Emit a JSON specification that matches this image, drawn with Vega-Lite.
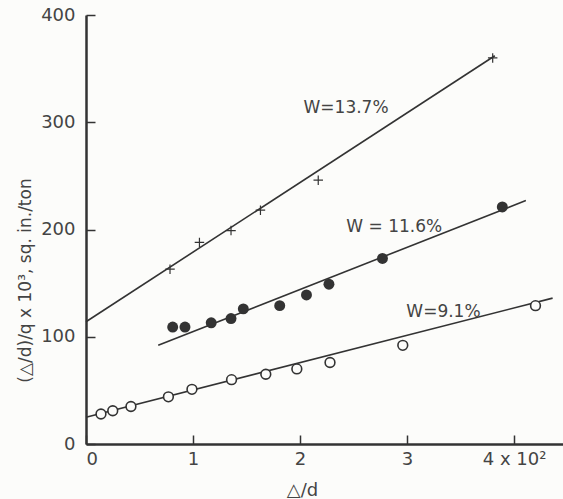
{
  "$schema": "https://vega.github.io/schema/vega-lite/v6.json",
  "width": 477,
  "height": 429,
  "autosize": "none",
  "padding": {"left": 86, "top": 15, "right": 0, "bottom": 55},
  "background": "#fcfcfa",
  "config": {
    "view": {"stroke": null},
    "font": "DejaVu Sans",
    "axis": {
      "domainColor": "#333333",
      "domainWidth": 2.5,
      "tickColor": "#333333",
      "tickWidth": 1.5,
      "tickSize": -9,
      "grid": false,
      "labelFont": "DejaVu Sans",
      "labelFontSize": 18,
      "labelColor": "#444444",
      "titleFont": "DejaVu Sans",
      "titleFontSize": 17,
      "titleFontWeight": "normal",
      "titleColor": "#444444"
    }
  },
  "datasets": {
    "pts": [
      {"series": "W=13.7%", "x": 0.785, "y": 163},
      {"series": "W=13.7%", "x": 1.06, "y": 188},
      {"series": "W=13.7%", "x": 1.355, "y": 199},
      {"series": "W=13.7%", "x": 1.63, "y": 218},
      {"series": "W=13.7%", "x": 2.17, "y": 246},
      {"series": "W=13.7%", "x": 3.8, "y": 360},
      {"series": "W=11.6%", "x": 0.81, "y": 109},
      {"series": "W=11.6%", "x": 0.925, "y": 109},
      {"series": "W=11.6%", "x": 1.17, "y": 113},
      {"series": "W=11.6%", "x": 1.355, "y": 117},
      {"series": "W=11.6%", "x": 1.47, "y": 126},
      {"series": "W=11.6%", "x": 1.81, "y": 129},
      {"series": "W=11.6%", "x": 2.06, "y": 139},
      {"series": "W=11.6%", "x": 2.27, "y": 149},
      {"series": "W=11.6%", "x": 2.77, "y": 173},
      {"series": "W=11.6%", "x": 3.89, "y": 221},
      {"series": "W=9.1%", "x": 0.14, "y": 28},
      {"series": "W=9.1%", "x": 0.25, "y": 31},
      {"series": "W=9.1%", "x": 0.42, "y": 35},
      {"series": "W=9.1%", "x": 0.77, "y": 44},
      {"series": "W=9.1%", "x": 0.99, "y": 51},
      {"series": "W=9.1%", "x": 1.36, "y": 60},
      {"series": "W=9.1%", "x": 1.68, "y": 65},
      {"series": "W=9.1%", "x": 1.97, "y": 70},
      {"series": "W=9.1%", "x": 2.28, "y": 76},
      {"series": "W=9.1%", "x": 2.96, "y": 92},
      {"series": "W=9.1%", "x": 4.2, "y": 129}
    ],
    "fits": [
      {"series": "W=13.7%", "x": 0, "y": 114},
      {"series": "W=13.7%", "x": 3.82, "y": 362},
      {"series": "W=11.6%", "x": 0.675, "y": 92},
      {"series": "W=11.6%", "x": 4.11, "y": 227},
      {"series": "W=9.1%", "x": 0, "y": 25},
      {"series": "W=9.1%", "x": 4.36, "y": 136}
    ],
    "labels": [
      {"text": "W=13.7%", "x": 2.43, "y": 313},
      {"text": "W = 11.6%", "x": 2.88, "y": 202},
      {"text": "W=9.1%", "x": 3.34, "y": 123}
    ]
  },
  "encoding": {
    "x": {
      "field": "x",
      "type": "quantitative",
      "scale": {"domain": [0, 4.457], "nice": false, "zero": false},
      "axis": {
        "values": [0, 1, 2, 3, 4],
        "labelExpr": "datum.value == 4 ? '4 x 10²' : datum.label",
        "labelPadding": 15,
        "title": "△/d",
        "titleX": 216,
        "titleY": 46,
        "titleBaseline": "middle",
        "titleFontSize": 18
      }
    },
    "y": {
      "field": "y",
      "type": "quantitative",
      "scale": {"domain": [0, 400], "nice": false},
      "axis": {
        "values": [0, 100, 200, 300, 400],
        "labelPadding": 20,
        "title": "(△/d)/q x 10³, sq. in./ton",
        "titleX": -61,
        "titleY": 265,
        "titleAngle": 270,
        "titleAlign": "center",
        "titleBaseline": "middle"
      }
    }
  },
  "layer": [
    {
      "data": {"name": "fits"},
      "mark": {"type": "line", "color": "#333333", "strokeWidth": 1.6},
      "encoding": {"detail": {"field": "series"}}
    },
    {
      "data": {"name": "pts"},
      "transform": [{"filter": "datum.series == 'W=13.7%'"}],
      "mark": {"type": "point", "shape": "M-1,0H1M0,-1V1", "filled": false, "size": 90, "stroke": "#333333", "strokeWidth": 1.2, "opacity": 1}
    },
    {
      "data": {"name": "pts"},
      "transform": [{"filter": "datum.series == 'W=11.6%'"}],
      "mark": {"type": "point", "shape": "circle", "filled": true, "size": 120, "color": "#333333", "opacity": 1}
    },
    {
      "data": {"name": "pts"},
      "transform": [{"filter": "datum.series == 'W=9.1%'"}],
      "mark": {"type": "point", "shape": "circle", "filled": true, "size": 95, "fill": "#fcfcfa", "stroke": "#333333", "strokeWidth": 1.6, "opacity": 1}
    },
    {
      "data": {"name": "labels"},
      "mark": {"type": "text", "fontSize": 17, "color": "#444444", "font": "DejaVu Sans"},
      "encoding": {"text": {"field": "text"}}
    }
  ]
}
